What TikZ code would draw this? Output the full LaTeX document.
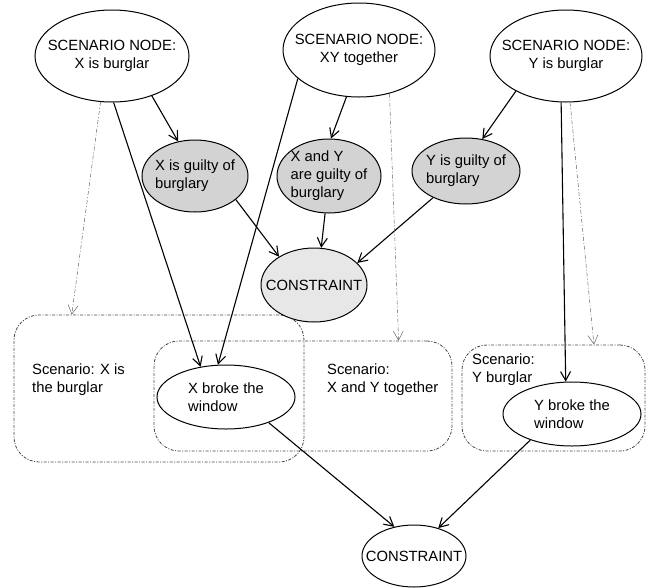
\documentclass[tikz,border=0pt]{standalone}
\usepackage{fontspec}
\setmainfont{Liberation Sans}
\usetikzlibrary{shapes.geometric,arrows.meta,calc}
\definecolor{guiltgray}{RGB}{211,211,211}
\definecolor{consgray}{RGB}{231,231,231}
\definecolor{hintgray}{RGB}{100,100,100}
\definecolor{boxgray}{RGB}{70,70,70}

\begin{document}
\begin{tikzpicture}[x=1pt, y=-1pt,
    every node/.style={font=\fontsize{14.8}{18}\selectfont},
    ell/.style={ellipse, draw, line width=1pt, fill=white, inner sep=0pt},
    lblc/.style={align=center, inner sep=0pt},
    lbll/.style={align=left, inner sep=0pt},
    scenbox/.style={draw=boxgray, line width=0.8pt, rounded corners=25pt,
      dash pattern=on 3pt off 1.5pt on 1pt off 1.5pt, inner sep=0pt},
    boxtext/.style={anchor=west, align=left, inner sep=0pt},
    link/.style={-{Straight Barb[length=9pt,width=10pt]}, line width=1.1pt},
    hint/.style={-{Straight Barb[length=9pt,width=10pt]}, draw=hintgray, line width=0.5pt,
      dash pattern=on 4pt off 2pt on 1pt off 2pt}]

  \useasboundingbox (0,0) rectangle (651,587);

  % scenario boxes
  \path (159,388.5) node[scenbox, minimum width=290pt, minimum height=147pt] (b1) {};
  \path (303,396) node[scenbox, minimum width=298pt, minimum height=110pt] (b2) {};
  \path (553.5,398) node[scenbox, minimum width=183pt, minimum height=106pt] (b3) {};

  \path (32,380) node[boxtext] (t1) {Scenario: X is\\the burglar};
  \path (327,380) node[boxtext] (t2) {Scenario:\\X and Y together};
  \path (472,370) node[boxtext] (t3) {Scenario:\\Y burglar};

  % scenario nodes
  \path (112,56) node[ell, minimum width=154pt, minimum height=92pt,
    label={[lblc]center:{SCENARIO NODE:\\X is burglar}}] (s1) {};
  \path (359,50) node[ell, minimum width=152pt, minimum height=94pt,
    label={[lblc]center:{SCENARIO NODE:\\XY together}}] (s2) {};
  \path (566,56) node[ell, minimum width=152pt, minimum height=92pt,
    label={[lblc]center:{SCENARIO NODE:\\Y is burglar}}] (s3) {};

  % guilty nodes
  \path (195,176) node[ell, fill=guiltgray, minimum width=106pt, minimum height=72pt,
    label={[lbll]center:{X is guilty of\\burglary}}] (g1) {};
  \path (329,176) node[ell, fill=guiltgray, minimum width=104pt, minimum height=74pt,
    label={[lbll]center:{X and Y\\are guilty of\\burglary}}] (g2) {};
  \path (466,171) node[ell, fill=guiltgray, minimum width=108pt, minimum height=66pt,
    label={[lbll]center:{Y is guilty of\\burglary}}] (g3) {};

  \path (314,285) node[ell, fill=consgray, minimum width=106pt, minimum height=74pt,
    label={[lblc]center:{CONSTRAINT}}] (c1) {};

  % window nodes
  \path (226,397) node[ell, minimum width=138pt, minimum height=64pt,
    label={[lbll]center:{X broke the\\window}}] (w1) {};
  \path (572,414) node[ell, minimum width=138pt, minimum height=64pt,
    label={[lbll]center:{Y broke the\\window}}] (w2) {};

  \path (414,556) node[ell, minimum width=104pt, minimum height=62pt,
    label={[lblc]center:{CONSTRAINT}}] (c2) {};

  \draw[link]
    (s1.-45) -- (g1.116);
  \draw[link]
    (s1.-88) -- (w1.130);
  \draw[link]
    (s2.-155) -- (w1.104);
  \draw[link]
    (s2.-105) -- (g2.87);
  \draw[link]
    (s3.-145) -- (g3.63);
  \draw[link]
    (s3.-96) -- (w2.101);
  \draw[link]
    (g1.-30) -- (c1.141);
  \draw[link]
    (g2.-96) -- (c1.79);
  \draw[link]
    (g3.-141) -- (c1.27);
  \draw[link]
    (w1.-31) -- (c2.124);
  \draw[link]
    (w2.-148) -- (c2.49);

  \draw[hint] (s1.-104) -- ($(b1.north west)!0.2!(b1.north east)$);
  \draw[hint] (s2.-55) -- ($(b2.north west)!0.82!(b2.north east)$);
  \draw[hint] (s3.-85) -- ($(b3.north west)!0.72!(b3.north east)$);
\end{tikzpicture}
\end{document}
